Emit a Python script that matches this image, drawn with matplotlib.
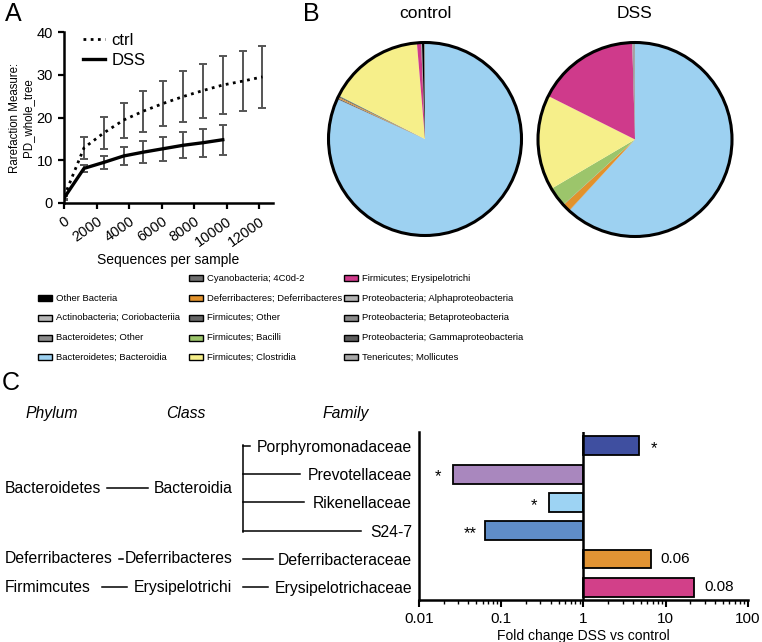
import matplotlib.pyplot as plt
import matplotlib.patches as mpatches
import numpy as np

plt.rcParams['font.family'] = ['Liberation Sans', 'DejaVu Sans']

# ---- panel A: rarefaction
seqs = [10, 1230, 2450, 3670, 4890, 6110, 7330, 8550, 9770, 10990, 12210]
ctrl_mean = [1.5, 12.9, 16.4, 19.4, 21.5, 23.3, 24.9, 26.3, 27.6, 28.5, 29.5]
ctrl_err = [0.6, 2.5, 3.8, 4.1, 4.8, 5.3, 5.9, 6.3, 6.7, 7.0, 7.3]
dss_mean = [1.2, 8.1, 9.5, 11.0, 11.9, 12.7, 13.5, 14.1, 14.8]
dss_err = [0.5, 0.9, 1.6, 2.0, 2.5, 2.8, 3.0, 3.3, 3.5]

# ---- panel B: taxa composition (legend order)
taxa = ['Other Bacteria', 'Actinobacteria; Coriobacteriia', 'Bacteroidetes; Other',
        'Bacteroidetes; Bacteroidia', 'Cyanobacteria; 4C0d-2',
        'Deferribacteres; Deferribacteres', 'Firmicutes; Other', 'Firmicutes; Bacilli',
        'Firmicutes; Clostridia', 'Firmicutes; Erysipelotrichi',
        'Proteobacteria; Alphaproteobacteria', 'Proteobacteria; Betaproteobacteria',
        'Proteobacteria; Gammaproteobacteria', 'Tenericutes; Mollicutes']
taxa_colors = ['#000000', '#b8b8b8', '#8c8c8c', '#9dd1f1', '#6e6e6e', '#e2922c',
               '#666666', '#9cc56b', '#f6ef8a', '#cf3a8b', '#b3b3b3', '#8a8a8a',
               '#5c5c5c', '#a8a8a8']
control_pct = [0.4, 0.05, 0.05, 81.9, 0.2, 0.2, 0.2, 0.1, 16.2, 0.7, 0.02, 0.02, 0.05, 0.05]
dss_pct = [0.05, 0.05, 0.05, 62.0, 0.05, 1.3, 0.05, 3.3, 15.9, 17.2, 0.05, 0.05, 0.1, 0.1]

# ---- panel C: fold change
families = ['Porphyromonadaceae', 'Prevotellaceae', 'Rikenellaceae', 'S24-7',
            'Deferribacteraceae', 'Erysipelotrichaceae']
fold_change = [4.7, 0.026, 0.38, 0.064, 6.6, 22.4]
bar_colors = ['#3f4fa0', '#a987be', '#9dd3f3', '#5f8dc8', '#e29434', '#d24089']
sig_labels = ['*', '*', '*', '**', '0.06', '0.08']

fig = plt.figure(figsize=(7.62, 6.42), dpi=100)
W, H = 762.0, 642.0


def px_axes(x0, y0, x1, y1):
    # axes from pixel box (top-left origin)
    return fig.add_axes([x0 / W, 1 - y1 / H, (x1 - x0) / W, (y1 - y0) / H])


# ================= A
ax = px_axes(64, 32, 273, 203)
ax.errorbar(seqs, ctrl_mean, yerr=ctrl_err, fmt='none', ecolor='#555555',
            elinewidth=1.4, capsize=3, capthick=1.4)
ax.errorbar(seqs[:len(dss_mean)], dss_mean, yerr=dss_err, fmt='none', ecolor='#555555',
            elinewidth=1.4, capsize=3, capthick=1.4)
ax.plot(seqs, ctrl_mean, color='k', lw=2, ls=(0, (1, 1.6)), label='ctrl')
ax.plot(seqs[:len(dss_mean)], dss_mean, color='k', lw=2.4, label='DSS')
ax.set_xlim(0, 12860)
ax.set_ylim(0, 40)
ax.set_yticks([0, 10, 20, 30, 40])
ax.set_xticks(np.arange(0, 12001, 2000))
ax.set_xticklabels([str(v) for v in range(0, 12001, 2000)], rotation=35,
                   ha='right', rotation_mode='anchor')
for s in ['top', 'right']:
    ax.spines[s].set_visible(False)
for s in ['left', 'bottom']:
    ax.spines[s].set_linewidth(1.8)
ax.tick_params(width=1.6, length=4.5, labelsize=10.5)
ax.set_xlabel('Sequences per sample', fontsize=10, labelpad=3)
ax.set_ylabel('Rarefaction Measure:\nPD_whole_tree', fontsize=8.3,
              linespacing=1.05, labelpad=2)
ax.legend(loc='upper left', bbox_to_anchor=(0.02, 1.08), frameon=False, fontsize=12,
          handlelength=1.3, handletextpad=0.4, labelspacing=0.3)

fig.text(5 / W, 1 - 14 / H, 'A', fontsize=18, va='center', ha='left')
fig.text(303 / W, 1 - 14 / H, 'B', fontsize=18, va='center', ha='left')
fig.text(2 / W, 1 - 383 / H, 'C', fontsize=18, va='center', ha='left')

# ================= B
order = list(range(3, len(taxa))) + [0, 1, 2]
for cx, cy, r, title, pct in [(425, 139, 96.5, 'control', control_pct),
                              (635, 139.5, 97, 'DSS', dss_pct)]:
    axp = px_axes(cx - r, cy - r, cx + r, cy + r)
    axp.pie([pct[i] for i in order], colors=[taxa_colors[i] for i in order],
            startangle=90, counterclock=False, radius=1,
            wedgeprops=dict(linewidth=0))
    axp.add_patch(mpatches.Circle((0, 0), 1, fill=False, lw=2.2, ec='k', clip_on=False))
    axp.set_xlim(-1, 1)
    axp.set_ylim(-1, 1)
    axp.set_aspect('equal')
    axp.axis('off')
    fig.text(cx / W, 1 - 14 / H, title, fontsize=12.5, ha='center', va='center')

# legend for B
col_x = [37.7, 189.3, 344.3]
for i, (lab, col) in enumerate(zip(taxa, taxa_colors)):
    if i < 4:
        c, r = 0, i + 1
    elif i < 9:
        c, r = 1, i - 4
    else:
        c, r = 2, i - 9
    y = 278.3 + 19.75 * r
    fig.patches.append(mpatches.Rectangle((col_x[c] / W, 1 - (y + 3) / H), 14 / W, 6 / H,
                                          transform=fig.transFigure, fc=col, ec='k',
                                          lw=1.0))
    fig.text((col_x[c] + 18) / W, 1 - y / H, lab, fontsize=6.8,
             ha='left', va='center')

# ================= C
axc = px_axes(419, 431.7, 747.7, 600)
rows = np.arange(len(families))
widths = [v - 1 for v in fold_change]
axc.barh(rows, widths, left=1, height=0.67, color=bar_colors, edgecolor='k', lw=1.3)
axc.set_xscale('log')
axc.set_xlim(0.01, 100)
axc.set_ylim(5.45, -0.5)
axc.axvline(1, color='k', lw=1.8)
axc.set_yticks(rows)
axc.set_yticklabels(families, fontsize=11.3)
axc.tick_params(axis='y', length=0, pad=5)
axc.tick_params(axis='x', which='major', width=1.5, length=5, labelsize=11)
axc.tick_params(axis='x', which='minor', width=1.0, length=3)
axc.set_xticks([0.01, 0.1, 1, 10, 100])
axc.set_xticklabels(['0.01', '0.1', '1', '10', '100'])
for s in ['top', 'right']:
    axc.spines[s].set_visible(False)
for s in ['left', 'bottom']:
    axc.spines[s].set_linewidth(1.8)
axc.set_xlabel('Fold change DSS vs control', fontsize=10, labelpad=2)
for r, v, lab in zip(rows, fold_change, sig_labels):
    if lab.startswith('*'):
        off = 11 if v > 1 else -11
        axc.annotate(lab, (v, r), xytext=(off, -2), textcoords='offset points',
                     ha='center', va='center', fontsize=12)
    else:
        axc.annotate(lab, (v, r), xytext=(7, 0), textcoords='offset points',
                     ha='left', va='center', fontsize=11)

# taxonomy tree left of bar chart, sharing row positions
axt = px_axes(0, 431.7, 419, 600)
axt.set_xlim(0, 419)
axt.set_ylim(5.45, -0.5)
axt.axis('off')
hdr = -1.16
for x, t in [(51.8, 'Phylum'), (186, 'Class'), (346, 'Family')]:
    axt.text(x, hdr, t, style='italic', fontsize=11.3, ha='center', va='center')
phyla = [('Bacteroidetes', 1.5), ('Deferribacteres', 4), ('Firmimcutes', 5)]
classes = ['Bacteroidia', 'Deferribacteres', 'Erysipelotrichi']
for (p, r), c in zip(phyla, classes):
    axt.text(4.5, r, p, fontsize=11.3, ha='left', va='center')
    axt.text(232.3, r, c, fontsize=11.3, ha='right', va='center')
lk = dict(color='k', lw=1.1, clip_on=False)
axt.plot([106.7, 148.3], [1.5, 1.5], **lk)
axt.plot([119, 122.7], [4, 4], **lk)
axt.plot([101.7, 127.3], [5, 5], **lk)
axt.plot([243.3, 273.3], [4, 4], **lk)
axt.plot([242.7, 268.3], [5, 5], **lk)
axt.plot([242.7, 242.7], [-0.04, 3.03], **lk)
for r, x1 in zip(range(4), [250, 300, 304, 361]):
    axt.plot([242.7, x1], [r, r], **lk)

fig.savefig('out.png', dpi=100)
